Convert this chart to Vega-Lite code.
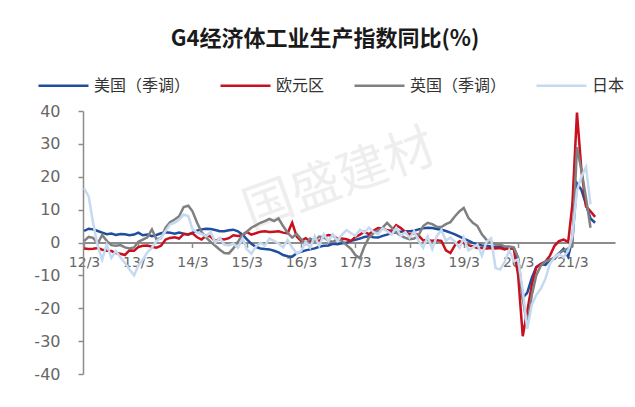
{
"$schema": "https://vega.github.io/schema/vega-lite/v6.json",
"width": 532, "height": 263,
"autosize": {"type": "none"},
"padding": {"left": 83, "top": 111, "right": 20, "bottom": 33},
"background": "white",
"config": {"view": {"stroke": null}, "font": "DejaVu Sans",
"axisY": {"values": [-40, -30, -20, -10, 0, 10, 20, 30, 40], "title": null, "grid": false,
"labelExpr": "'' + datum.value", "labelOverlap": false, "labelFlush": false,
"domainColor": "#8c8c8c", "domainWidth": 1.5, "tickColor": "#8c8c8c", "tickWidth": 1.5, "tickSize": 5,
"labelFont": "DejaVu Sans", "labelFontSize": 16, "labelColor": "#666666", "labelPadding": 18}},
"title": {"text": "G4经济体工业生产指数同比(%)", "font": "Noto Sans CJK SC", "fontSize": 22, "fontWeight": "bold", "color": "#1a1a1a", "anchor": "middle", "frame": "group", "dx": -24, "offset": 8},
"datasets": {"ip": [
{"d":"2012-03-01","US":3.5,"EU":-1.8,"UK":0.4,"JP":16.5},
{"d":"2012-04-01","US":4.2,"EU":-2.0,"UK":1.7,"JP":14.0},
{"d":"2012-05-01","US":4.0,"EU":-1.9,"UK":1.4,"JP":6.0},
{"d":"2012-06-01","US":3.5,"EU":-1.7,"UK":-0.3,"JP":-1.1},
{"d":"2012-07-01","US":3.0,"EU":-2.2,"UK":2.3,"JP":-5.2},
{"d":"2012-08-01","US":2.5,"EU":-2.5,"UK":0.5,"JP":-0.6},
{"d":"2012-09-01","US":2.7,"EU":-2.6,"UK":-0.8,"JP":-4.7},
{"d":"2012-10-01","US":2.3,"EU":-3.2,"UK":-1.0,"JP":-2.6},
{"d":"2012-11-01","US":2.6,"EU":-3.4,"UK":-0.8,"JP":-4.5},
{"d":"2012-12-01","US":2.5,"EU":-3.8,"UK":-1.5,"JP":-6.2},
{"d":"2013-01-01","US":2.2,"EU":-2.4,"UK":-1.8,"JP":-8.2},
{"d":"2013-02-01","US":2.4,"EU":-2.5,"UK":-1.5,"JP":-10.0},
{"d":"2013-03-01","US":3.0,"EU":-1.4,"UK":0.2,"JP":-7.0},
{"d":"2013-04-01","US":2.2,"EU":-1.0,"UK":0.9,"JP":-5.2},
{"d":"2013-05-01","US":2.4,"EU":-0.9,"UK":1.6,"JP":-3.0},
{"d":"2013-06-01","US":1.9,"EU":-1.3,"UK":4.0,"JP":-1.6},
{"d":"2013-07-01","US":2.3,"EU":-1.6,"UK":1.0,"JP":0.4},
{"d":"2013-08-01","US":2.8,"EU":-1.0,"UK":1.3,"JP":1.4},
{"d":"2013-09-01","US":3.1,"EU":0.9,"UK":4.5,"JP":3.5},
{"d":"2013-10-01","US":3.0,"EU":1.4,"UK":6.2,"JP":5.5},
{"d":"2013-11-01","US":2.7,"EU":1.6,"UK":7.0,"JP":6.0},
{"d":"2013-12-01","US":3.0,"EU":1.2,"UK":8.0,"JP":7.0},
{"d":"2014-01-01","US":2.7,"EU":2.6,"UK":10.8,"JP":8.5},
{"d":"2014-02-01","US":2.4,"EU":2.5,"UK":11.2,"JP":8.0},
{"d":"2014-03-01","US":3.0,"EU":2.8,"UK":9.5,"JP":4.0},
{"d":"2014-04-01","US":3.6,"EU":1.6,"UK":6.0,"JP":3.0},
{"d":"2014-05-01","US":4.0,"EU":0.9,"UK":3.2,"JP":2.6},
{"d":"2014-06-01","US":4.2,"EU":2.1,"UK":1.5,"JP":1.9},
{"d":"2014-07-01","US":4.1,"EU":1.8,"UK":0.2,"JP":3.2},
{"d":"2014-08-01","US":3.8,"EU":0.4,"UK":-1.0,"JP":-0.1},
{"d":"2014-09-01","US":3.4,"EU":1.1,"UK":-2.2,"JP":1.4},
{"d":"2014-10-01","US":3.4,"EU":0.9,"UK":-3.2,"JP":-0.7},
{"d":"2014-11-01","US":3.7,"EU":1.3,"UK":-3.3,"JP":-0.9},
{"d":"2014-12-01","US":3.9,"EU":2.2,"UK":-1.8,"JP":-0.3},
{"d":"2015-01-01","US":3.4,"EU":2.0,"UK":0.2,"JP":-1.6},
{"d":"2015-02-01","US":2.4,"EU":2.2,"UK":2.4,"JP":1.2},
{"d":"2015-03-01","US":1.0,"EU":3.2,"UK":3.3,"JP":-2.0},
{"d":"2015-04-01","US":-0.4,"EU":2.4,"UK":4.5,"JP":-3.4},
{"d":"2015-05-01","US":-1.3,"EU":2.8,"UK":5.2,"JP":-1.3},
{"d":"2015-06-01","US":-1.8,"EU":3.3,"UK":6.0,"JP":-0.1},
{"d":"2015-07-01","US":-2.0,"EU":3.4,"UK":6.5,"JP":-1.0},
{"d":"2015-08-01","US":-2.1,"EU":3.2,"UK":7.2,"JP":1.2},
{"d":"2015-09-01","US":-2.5,"EU":3.3,"UK":6.5,"JP":0.5},
{"d":"2015-10-01","US":-3.0,"EU":3.4,"UK":7.3,"JP":-0.3},
{"d":"2015-11-01","US":-3.8,"EU":3.0,"UK":5.0,"JP":-1.5},
{"d":"2015-12-01","US":-4.2,"EU":2.8,"UK":3.0,"JP":0.8},
{"d":"2016-01-01","US":-4.3,"EU":6.0,"UK":1.5,"JP":-1.5},
{"d":"2016-02-01","US":-3.3,"EU":1.8,"UK":2.6,"JP":-3.3},
{"d":"2016-03-01","US":-2.8,"EU":0.5,"UK":1.0,"JP":-2.6},
{"d":"2016-04-01","US":-2.4,"EU":1.3,"UK":-0.4,"JP":0.2},
{"d":"2016-05-01","US":-2.1,"EU":0.4,"UK":1.2,"JP":-1.6},
{"d":"2016-06-01","US":-1.8,"EU":0.9,"UK":0.5,"JP":1.9},
{"d":"2016-07-01","US":-1.3,"EU":0.4,"UK":1.8,"JP":-1.0},
{"d":"2016-08-01","US":-1.0,"EU":1.7,"UK":1.6,"JP":2.5},
{"d":"2016-09-01","US":-0.9,"EU":2.3,"UK":0.5,"JP":0.4},
{"d":"2016-10-01","US":-0.4,"EU":2.1,"UK":0.2,"JP":2.5},
{"d":"2016-11-01","US":-0.5,"EU":1.1,"UK":1.0,"JP":0.5},
{"d":"2016-12-01","US":-0.2,"EU":1.2,"UK":0.5,"JP":2.4},
{"d":"2017-01-01","US":-0.1,"EU":1.0,"UK":-0.8,"JP":3.8},
{"d":"2017-02-01","US":0.5,"EU":0.5,"UK":-2.0,"JP":2.8},
{"d":"2017-03-01","US":0.8,"EU":1.7,"UK":-3.8,"JP":2.0},
{"d":"2017-04-01","US":1.2,"EU":2.4,"UK":-4.8,"JP":3.9},
{"d":"2017-05-01","US":1.7,"EU":3.3,"UK":-1.2,"JP":3.0},
{"d":"2017-06-01","US":1.9,"EU":2.5,"UK":1.5,"JP":4.5},
{"d":"2017-07-01","US":1.6,"EU":3.6,"UK":2.8,"JP":3.2},
{"d":"2017-08-01","US":1.5,"EU":4.4,"UK":3.6,"JP":2.5},
{"d":"2017-09-01","US":2.0,"EU":4.3,"UK":4.5,"JP":4.3},
{"d":"2017-10-01","US":2.4,"EU":3.7,"UK":6.0,"JP":3.5},
{"d":"2017-11-01","US":2.9,"EU":3.6,"UK":4.5,"JP":2.4},
{"d":"2017-12-01","US":3.1,"EU":5.3,"UK":3.0,"JP":4.5},
{"d":"2018-01-01","US":3.3,"EU":4.4,"UK":2.1,"JP":2.0},
{"d":"2018-02-01","US":3.4,"EU":3.2,"UK":1.4,"JP":3.2},
{"d":"2018-03-01","US":3.4,"EU":2.4,"UK":1.0,"JP":1.4},
{"d":"2018-04-01","US":3.6,"EU":2.9,"UK":1.2,"JP":3.4},
{"d":"2018-05-01","US":4.0,"EU":2.1,"UK":2.2,"JP":0.5},
{"d":"2018-06-01","US":4.3,"EU":0.6,"UK":5.0,"JP":-1.6},
{"d":"2018-07-01","US":4.5,"EU":0.8,"UK":6.0,"JP":1.8},
{"d":"2018-08-01","US":4.4,"EU":0.5,"UK":5.6,"JP":-2.0},
{"d":"2018-09-01","US":4.1,"EU":0.7,"UK":4.8,"JP":2.0},
{"d":"2018-10-01","US":3.9,"EU":0.5,"UK":4.7,"JP":3.8},
{"d":"2018-11-01","US":3.5,"EU":-2.4,"UK":5.6,"JP":0.5},
{"d":"2018-12-01","US":3.0,"EU":-3.2,"UK":6.2,"JP":1.5},
{"d":"2019-01-01","US":2.5,"EU":-0.8,"UK":8.0,"JP":0.2},
{"d":"2019-02-01","US":1.8,"EU":0.4,"UK":9.5,"JP":-1.6},
{"d":"2019-03-01","US":1.2,"EU":-0.2,"UK":10.5,"JP":1.5},
{"d":"2019-04-01","US":0.6,"EU":-0.8,"UK":7.5,"JP":-2.4},
{"d":"2019-05-01","US":-0.1,"EU":-1.2,"UK":6.0,"JP":-1.5},
{"d":"2019-06-01","US":-0.5,"EU":-1.7,"UK":5.0,"JP":-0.6},
{"d":"2019-07-01","US":-0.9,"EU":-1.7,"UK":2.5,"JP":-4.0},
{"d":"2019-08-01","US":-1.0,"EU":-1.8,"UK":0.8,"JP":0.2},
{"d":"2019-09-01","US":-1.2,"EU":-1.7,"UK":0.0,"JP":1.3},
{"d":"2019-10-01","US":-1.3,"EU":-1.8,"UK":-0.5,"JP":-7.8},
{"d":"2019-11-01","US":-1.2,"EU":-1.7,"UK":-0.6,"JP":-8.2},
{"d":"2019-12-01","US":-1.6,"EU":-2.1,"UK":-1.2,"JP":-6.0},
{"d":"2020-01-01","US":-1.9,"EU":-1.6,"UK":-1.2,"JP":-2.3},
{"d":"2020-02-01","US":-1.7,"EU":-2.0,"UK":-1.5,"JP":-5.7},
{"d":"2020-03-01","US":-5.0,"EU":-10.0,"UK":-4.5,"JP":-5.2},
{"d":"2020-04-01","US":-16.8,"EU":-28.5,"UK":-17.0,"JP":-14.5},
{"d":"2020-05-01","US":-15.3,"EU":-21.0,"UK":-25.5,"JP":-26.3},
{"d":"2020-06-01","US":-10.8,"EU":-13.0,"UK":-16.0,"JP":-19.0},
{"d":"2020-07-01","US":-7.5,"EU":-7.5,"UK":-10.0,"JP":-16.0},
{"d":"2020-08-01","US":-6.6,"EU":-6.5,"UK":-7.0,"JP":-14.0},
{"d":"2020-09-01","US":-6.8,"EU":-5.8,"UK":-5.8,"JP":-11.0},
{"d":"2020-10-01","US":-5.2,"EU":-4.0,"UK":-5.2,"JP":-6.5},
{"d":"2020-11-01","US":-5.0,"EU":-1.0,"UK":-4.6,"JP":-4.5},
{"d":"2020-12-01","US":-3.4,"EU":0.4,"UK":-3.2,"JP":-3.5},
{"d":"2021-01-01","US":-1.9,"EU":0.9,"UK":-2.5,"JP":-4.5},
{"d":"2021-02-01","US":-4.3,"EU":0.2,"UK":-1.8,"JP":-2.5},
{"d":"2021-03-01","US":1.0,"EU":11.5,"UK":-1.0,"JP":2.0},
{"d":"2021-04-01","US":18.0,"EU":39.5,"UK":29.0,"JP":15.8},
{"d":"2021-05-01","US":16.0,"EU":22.0,"UK":22.0,"JP":20.0},
{"d":"2021-06-01","US":11.5,"EU":11.0,"UK":13.5,"JP":23.0},
{"d":"2021-07-01","US":7.3,"EU":9.5,"UK":4.5,"JP":11.6},
{"d":"2021-08-01","US":6.0,"EU":7.8,"UK":null,"JP":null}
]},
"layer": [
{
"data": {"values": [{"d": "2016-11-15", "v": 19, "t": "国盛建材"}]},
"mark": {"type": "text", "angle": -20, "fontSize": 50, "font": "Noto Sans CJK SC", "color": "#eeeeee"},
"encoding": {
"x": {"field": "d", "type": "temporal"},
"y": {"field": "v", "type": "quantitative"},
"text": {"field": "t"}
}
},
{
"data": {"name": "ip"},
"transform": [{"fold": ["US", "EU", "UK", "JP"], "as": ["s", "v"]}],
"mark": {"type": "line", "strokeWidth": 2.5},
"encoding": {
"x": {"field": "d", "type": "temporal",
"scale": {"domain": [{"year": 2012, "month": 2, "date": 23}, {"year": 2021, "month": 12, "date": 13}]},
"axis": {"values": [{"year": 2012, "month": 3, "date": 1}, {"year": 2013, "month": 3, "date": 1}, {"year": 2014, "month": 3, "date": 1}, {"year": 2015, "month": 3, "date": 1}, {"year": 2016, "month": 3, "date": 1}, {"year": 2017, "month": 3, "date": 1}, {"year": 2018, "month": 3, "date": 1}, {"year": 2019, "month": 3, "date": 1}, {"year": 2020, "month": 3, "date": 1}, {"year": 2021, "month": 3, "date": 1}],
"format": "%y/%-m", "title": null, "grid": false, "offset": -131.5,
"domainColor": "#8c8c8c", "domainWidth": 2, "tickColor": "#8c8c8c", "tickWidth": 1.5, "tickSize": 5,
"labelFont": "DejaVu Sans", "labelFontSize": 14, "labelColor": "#666666", "labelPadding": 8, "labelFlush": false, "labelOverlap": false}},
"y": {"field": "v", "type": "quantitative",
"scale": {"domain": [-40, 40], "nice": false},
"axis": {"values": [-40, -30, -20, -10, 0, 10, 20, 30, 40], "labelOverlap": false, "tickCount": 9}},
"color": {"field": "s", "type": "nominal",
"scale": {"domain": ["US", "EU", "UK", "JP"], "range": ["#1f4e9e", "#c8101e", "#808080", "#c5d9f0"]},
"legend": {"orient": "none", "legendX": -46, "legendY": -52, "direction": "horizontal", "title": null,
"symbolType": "stroke", "symbolSize": 2500, "symbolStrokeWidth": 2.5,
"labelFont": "Noto Sans CJK SC", "labelFontSize": 16, "labelColor": "#333333", "labelOffset": 4,
"columnPadding": 24, "padding": 0,
"labelExpr": "{'US':'美国（季调）','EU':'欧元区','UK':'英国（季调）','JP':'日本'}[datum.label]"}}
}
}
]
}
